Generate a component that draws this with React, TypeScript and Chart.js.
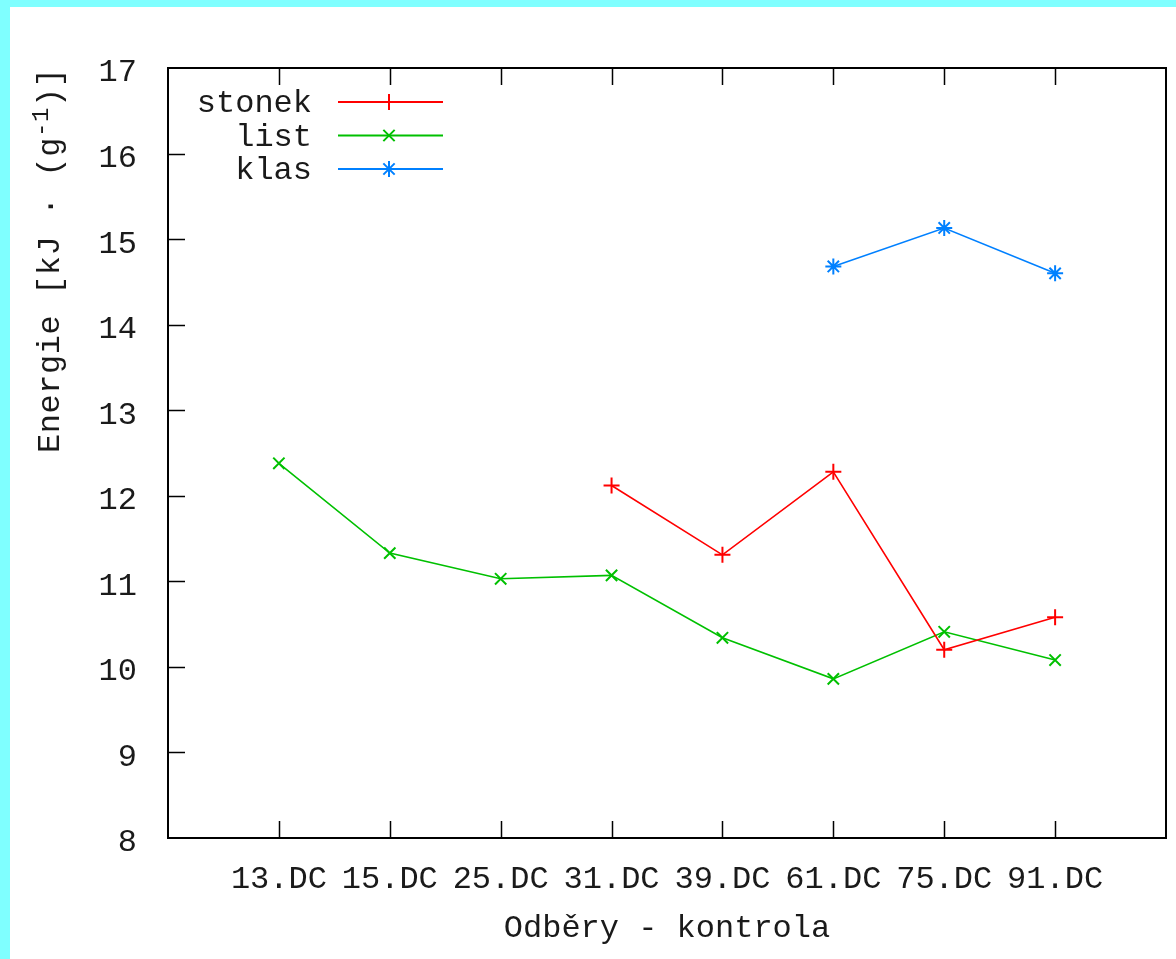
import React, { useEffect, useRef } from 'react';
import { Chart, registerables } from 'chart.js';

Chart.register(...registerables);

// ---- data ----
const categories = ['13.DC', '15.DC', '25.DC', '31.DC', '39.DC', '61.DC', '75.DC', '91.DC'];
const stonekValues: (number | null)[] = [null, null, null, 12.12, 11.31, 12.28, 10.2, 10.58];
const listValues: (number | null)[] = [12.38, 11.33, 11.03, 11.07, 10.34, 9.86, 10.41, 10.08];
const klasValues: (number | null)[] = [null, null, null, null, null, 14.68, 15.13, 14.6];
const seriesLabels = ['stonek', 'list', 'klas'];
const seriesColors = ['#ff0000', '#00c000', '#0080ff'];
const seriesPoints = ['cross', 'crossRot', 'star'];
const yMin = 8;
const yMax = 17;
const xTitle = 'Odběry - kontrola';
const yTitleMain = 'Energie [kJ · (g';
const yTitleSup = '-1';
const yTitleEnd = ')]';

const FONT = '"Liberation Mono", "DejaVu Sans Mono", monospace';
const TEXT = '#1a1a1a';

const toPoints = (vals: (number | null)[]) =>
  vals
    .map((v, i) => (v === null ? null : { x: i + 1, y: v }))
    .filter((p) => p !== null) as { x: number; y: number }[];

function drawMarker(ctx: CanvasRenderingContext2D, style: string, x: number, y: number, r: number) {
  ctx.beginPath();
  const d = r * Math.SQRT1_2;
  if (style === 'cross' || style === 'star') {
    ctx.moveTo(x - r, y);
    ctx.lineTo(x + r, y);
    ctx.moveTo(x, y - r);
    ctx.lineTo(x, y + r);
  }
  if (style === 'crossRot' || style === 'star') {
    ctx.moveTo(x - d, y - d);
    ctx.lineTo(x + d, y + d);
    ctx.moveTo(x - d, y + d);
    ctx.lineTo(x + d, y - d);
  }
  ctx.stroke();
}

const framePlugin = {
  id: 'gnuFrame',
  afterDraw(chart: any) {
    const { ctx, chartArea } = chart;
    const { left, right, top, bottom } = chartArea;
    const xs = chart.scales.x;
    const ys = chart.scales.y;
    const tickLen = 17;
    ctx.save();
    ctx.strokeStyle = '#000';
    ctx.lineWidth = 2;
    ctx.strokeRect(left, top, right - left, bottom - top);
    ctx.lineWidth = 1.5;
    ctx.beginPath();
    ys.ticks.forEach((t: any) => {
      if (t.value <= yMin || t.value >= yMax) return;
      const py = Math.round(ys.getPixelForValue(t.value)) + 0.5;
      ctx.moveTo(left, py);
      ctx.lineTo(left + tickLen, py);
    });
    categories.forEach((_, i) => {
      const px = Math.round(xs.getPixelForValue(i + 1)) + 0.5;
      ctx.moveTo(px, bottom);
      ctx.lineTo(px, bottom - tickLen);
      ctx.moveTo(px, top);
      ctx.lineTo(px, top + tickLen);
    });
    ctx.stroke();

    // axis titles
    ctx.fillStyle = TEXT;
    ctx.font = `32px ${FONT}`;
    ctx.textAlign = 'center';
    ctx.textBaseline = 'middle';
    ctx.fillText(xTitle, (left + right) / 2, bottom + 91);

    ctx.save();
    ctx.translate(41, top + 385);
    ctx.rotate(-Math.PI / 2);
    ctx.textAlign = 'left';
    ctx.textBaseline = 'middle';
    ctx.font = `32px ${FONT}`;
    const mainW = ctx.measureText(yTitleMain).width;
    ctx.font = `24px ${FONT}`;
    const supW = ctx.measureText(yTitleSup).width;
    ctx.font = `32px ${FONT}`;
    const endW = ctx.measureText(yTitleEnd).width;
    const total = mainW + supW + endW;
    const extra = (385 - total) / 19;
    ctx.letterSpacing = `${extra.toFixed(2)}px`;
    ctx.fillText(yTitleMain, 0, 0);
    let w = ctx.measureText(yTitleMain).width;
    ctx.font = `24px ${FONT}`;
    ctx.fillText(yTitleSup, w, -9);
    w += ctx.measureText(yTitleSup).width;
    ctx.font = `32px ${FONT}`;
    ctx.fillText(yTitleEnd, w, 0);
    ctx.restore();

    // legend
    ctx.font = `32px ${FONT}`;
    ctx.textAlign = 'right';
    ctx.textBaseline = 'middle';
    chart.data.datasets.forEach((ds: any, i: number) => {
      const ly = top + 34 + i * 33.5;
      ctx.fillStyle = TEXT;
      ctx.fillText(ds.label, left + 144, ly + 2);
      ctx.strokeStyle = ds.borderColor;
      ctx.lineWidth = 2;
      ctx.beginPath();
      ctx.moveTo(left + 170, ly);
      ctx.lineTo(left + 275, ly);
      ctx.stroke();
      drawMarker(ctx, ds.pointStyle, left + 221, ly, 8);
    });
    ctx.restore();
  },
};

export default function App() {
  const canvasRef = useRef<HTMLCanvasElement | null>(null);

  useEffect(() => {
    if (!canvasRef.current) return;
    const allValues = [stonekValues, listValues, klasValues];
    const chart = new Chart(canvasRef.current, {
      type: 'line',
      data: {
        datasets: allValues.map((vals, i) => ({
          label: seriesLabels[i],
          data: toPoints(vals),
          borderColor: seriesColors[i],
          backgroundColor: seriesColors[i],
          borderWidth: 1.6,
          pointStyle: seriesPoints[i] as any,
          pointRadius: 8,
          pointBorderWidth: 2,
          pointBorderColor: seriesColors[i],
          fill: false,
          tension: 0,
        })),
      },
      options: {
        animation: false,
        responsive: false,
        maintainAspectRatio: false,
        layout: { padding: { left: 0, top: 61, right: 8, bottom: 0 } },
        plugins: { legend: { display: false }, tooltip: { enabled: false } },
        scales: {
          x: {
            type: 'linear',
            min: 0,
            max: categories.length + 1,
            afterFit: (s: any) => {
              s.height = 121;
              s.paddingLeft = 0;
              s.paddingRight = 0;
            },
            grid: { display: false, drawTicks: false },
            border: { display: false },
            ticks: {
              stepSize: 1,
              autoSkip: false,
              maxRotation: 0,
              padding: 22,
              color: TEXT,
              font: { family: FONT, size: 32 },
              callback: (v: any) => {
                const idx = Number(v) - 1;
                return idx >= 0 && idx < categories.length ? categories[idx] : '';
              },
            },
          },
          y: {
            type: 'linear',
            min: yMin,
            max: yMax,
            afterFit: (s: any) => {
              s.width = 158;
              s.paddingTop = 0;
              s.paddingBottom = 0;
            },
            grid: { display: false, drawTicks: false },
            border: { display: false },
            ticks: {
              stepSize: 1,
              padding: 31,
              color: TEXT,
              labelOffset: 5,
              font: { family: FONT, size: 32 },
            },
          },
        },
      },
      plugins: [framePlugin],
    });
    return () => chart.destroy();
  }, []);

  return (
    <div style={{ position: 'fixed', inset: 0, background: '#7fffff' }}>
      <div style={{ position: 'absolute', left: 10, top: 7, width: 1166, height: 952, background: '#ffffff' }}>
        <canvas ref={canvasRef} width={1166} height={952} style={{ display: 'block', width: 1166, height: 952 }} />
      </div>
    </div>
  );
}
